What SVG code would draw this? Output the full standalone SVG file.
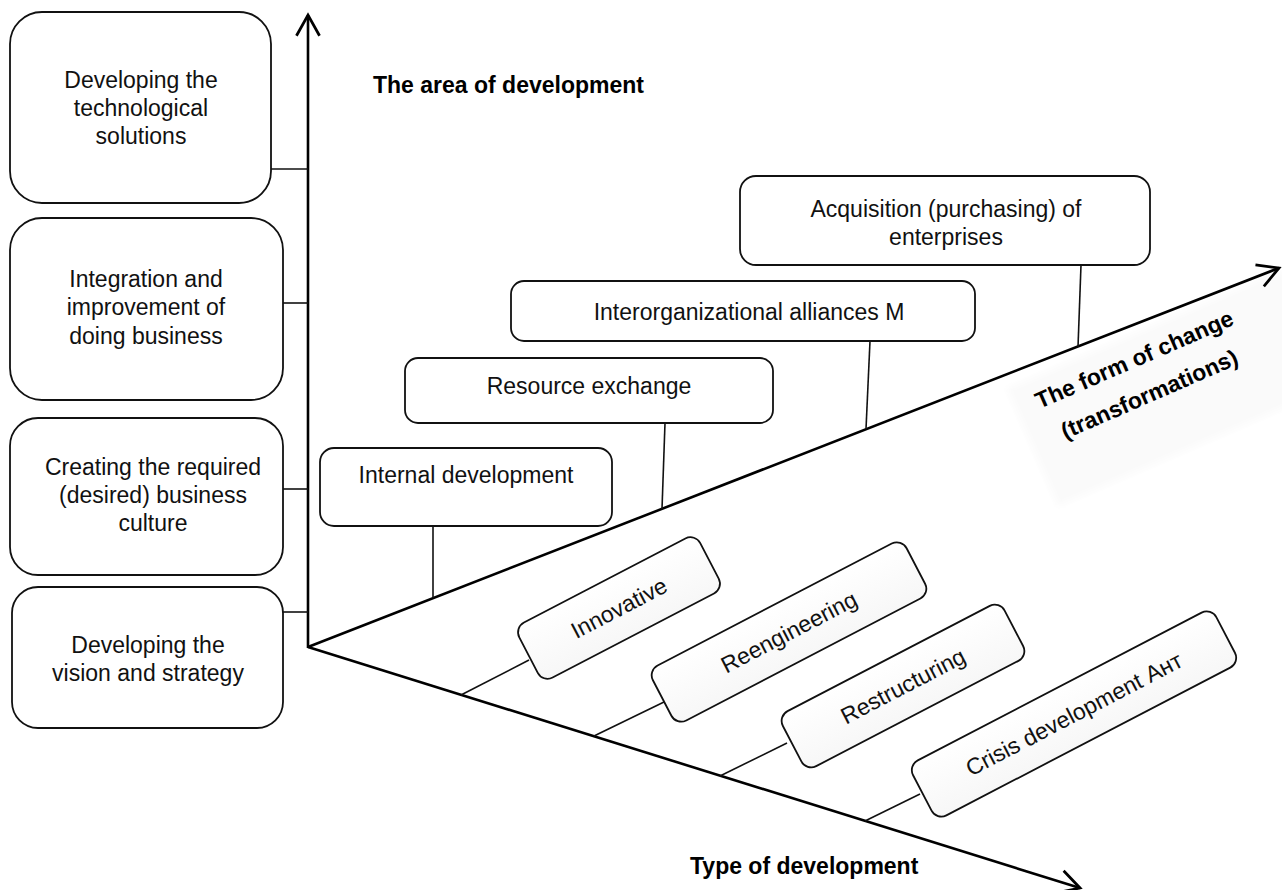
<svg xmlns="http://www.w3.org/2000/svg" width="1282" height="890" viewBox="0 0 1282 890">
  <defs>
    <style>
      .box { fill: #ffffff; stroke: #111111; stroke-width: 1.8; }
      .tbox { fill: url(#tfill); stroke: #111111; stroke-width: 1.8; }
      .lbl { font-family: "Liberation Sans", Arial, Helvetica, sans-serif; font-size: 23px; fill: #111111; text-anchor: middle; }
      .ttl { font-family: "Liberation Sans", Arial, Helvetica, sans-serif; font-size: 23px; font-weight: bold; fill: #000000; }
      .axis { stroke: #000000; stroke-width: 2.6; fill: none; }
      .con { stroke: #111111; stroke-width: 1.6; fill: none; }
    </style>
    <linearGradient id="tfill" x1="0" y1="0" x2="0" y2="1">
      <stop offset="0" stop-color="#ffffff"/>
      <stop offset="1" stop-color="#f7f7f7"/>
    </linearGradient>
    <marker id="open-arrow" markerUnits="userSpaceOnUse" markerWidth="30" markerHeight="30" viewBox="-22 -12 26 24" refX="0" refY="0" orient="auto">
      <path d="M -18 -10 L 0 0 L -18 10" fill="none" stroke="#000000" stroke-width="2.4"/>
    </marker>
    <filter id="soft" x="-20%" y="-20%" width="140%" height="140%">
      <feGaussianBlur stdDeviation="3"/>
    </filter>
  </defs>

  <rect width="1282" height="890" fill="#ffffff"/>

  <!-- faint backdrop behind the form-of-change axis label -->
  <g transform="translate(1150,392) rotate(-23.5)">
    <rect x="-130" y="-60" width="300" height="128" fill="#fafafa" filter="url(#soft)"/>
  </g>

  <!-- axes and connectors -->
  <g id="connectors">
    <line class="axis" x1="308" y1="648" x2="308" y2="15" marker-end="url(#open-arrow)"/>
    <line class="axis" x1="308" y1="647" x2="1279" y2="268" marker-end="url(#open-arrow)"/>
    <line class="axis" x1="308" y1="647" x2="1080" y2="888" marker-end="url(#open-arrow)"/>

    <!-- area-of-development boxes to vertical axis -->
    <line class="con" x1="271" y1="169" x2="308" y2="169"/>
    <line class="con" x1="283" y1="303" x2="308" y2="303"/>
    <line class="con" x1="283" y1="489" x2="308" y2="489"/>
    <line class="con" x1="283" y1="612" x2="308" y2="612"/>

    <!-- form-of-change boxes to upper axis -->
    <line class="con" x1="1081" y1="265" x2="1078" y2="347"/>
    <line class="con" x1="870" y1="341" x2="866" y2="429"/>
    <line class="con" x1="665" y1="423" x2="662" y2="509"/>
    <line class="con" x1="433" y1="526" x2="433" y2="598"/>

    <!-- development-type boxes to lower axis -->
    <line class="con" x1="461" y1="695" x2="529" y2="660"/>
    <line class="con" x1="594" y1="736" x2="664" y2="702"/>
    <line class="con" x1="720" y1="776" x2="787" y2="743"/>
    <line class="con" x1="865" y1="821" x2="920" y2="794"/>
  </g>

  <!-- axis titles -->
  <text class="ttl" x="373" y="93">The area of development</text>
  <text class="ttl" x="690" y="874">Type of development</text>
  <g transform="translate(1145,384) rotate(-23.5)">
    <text class="ttl" x="0" y="-19" text-anchor="middle">The form of change</text>
    <text class="ttl" x="0" y="19" text-anchor="middle">(transformations)</text>
  </g>

  <!-- area of development -->
  <g id="area-tech">
    <rect class="box" x="10" y="12" width="261" height="191" rx="32"/>
    <text class="lbl" x="141" y="88">Developing the</text>
    <text class="lbl" x="141" y="116">technological</text>
    <text class="lbl" x="141" y="144">solutions</text>
  </g>
  <g id="area-integration">
    <rect class="box" x="10" y="218" width="273" height="182" rx="32"/>
    <text class="lbl" x="146" y="287">Integration and</text>
    <text class="lbl" x="146" y="315">improvement of</text>
    <text class="lbl" x="146" y="344">doing business</text>
  </g>
  <g id="area-culture">
    <rect class="box" x="10" y="418" width="273" height="157" rx="28"/>
    <text class="lbl" x="153" y="475">Creating the required</text>
    <text class="lbl" x="153" y="503">(desired) business</text>
    <text class="lbl" x="153" y="531">culture</text>
  </g>
  <g id="area-vision">
    <rect class="box" x="12" y="587" width="271" height="141" rx="26"/>
    <text class="lbl" x="148" y="653">Developing the</text>
    <text class="lbl" x="148" y="681">vision and strategy</text>
  </g>

  <!-- form of change -->
  <g id="form-acquisition">
    <rect class="box" x="740" y="176" width="410" height="89" rx="16"/>
    <text class="lbl" x="946" y="217">Acquisition (purchasing) of</text>
    <text class="lbl" x="946" y="245">enterprises</text>
  </g>
  <g id="form-alliances">
    <rect class="box" x="511" y="281" width="464" height="60" rx="13"/>
    <text class="lbl" x="749" y="320">Interorganizational alliances M</text>
  </g>
  <g id="form-exchange">
    <rect class="box" x="405" y="358" width="368" height="65" rx="13"/>
    <text class="lbl" x="589" y="394">Resource exchange</text>
  </g>
  <g id="form-internal">
    <rect class="box" x="320" y="448" width="292" height="78" rx="14"/>
    <text class="lbl" x="466" y="483">Internal development</text>
  </g>

  <!-- type of development -->
  <g id="type-innovative" transform="translate(619,608) rotate(-27.5)">
    <rect class="tbox" x="-102" y="-31" width="204" height="62" rx="11"/>
    <text class="lbl" x="0" y="8">Innovative</text>
  </g>
  <g id="type-reengineering" transform="translate(789,632) rotate(-27.5)">
    <rect class="tbox" x="-143" y="-31" width="286" height="62" rx="11"/>
    <text class="lbl" x="0" y="8">Reengineering</text>
  </g>
  <g id="type-restructuring" transform="translate(903,686) rotate(-27.5)">
    <rect class="tbox" x="-125" y="-31" width="250" height="62" rx="11"/>
    <text class="lbl" x="0" y="8">Restructuring</text>
  </g>
  <g id="type-crisis" transform="translate(1074,714) rotate(-27.5)">
    <rect class="tbox" x="-171" y="-31" width="342" height="62" rx="11"/>
    <text class="lbl" x="0" y="8">Crisis development Ант</text>
  </g>
</svg>
